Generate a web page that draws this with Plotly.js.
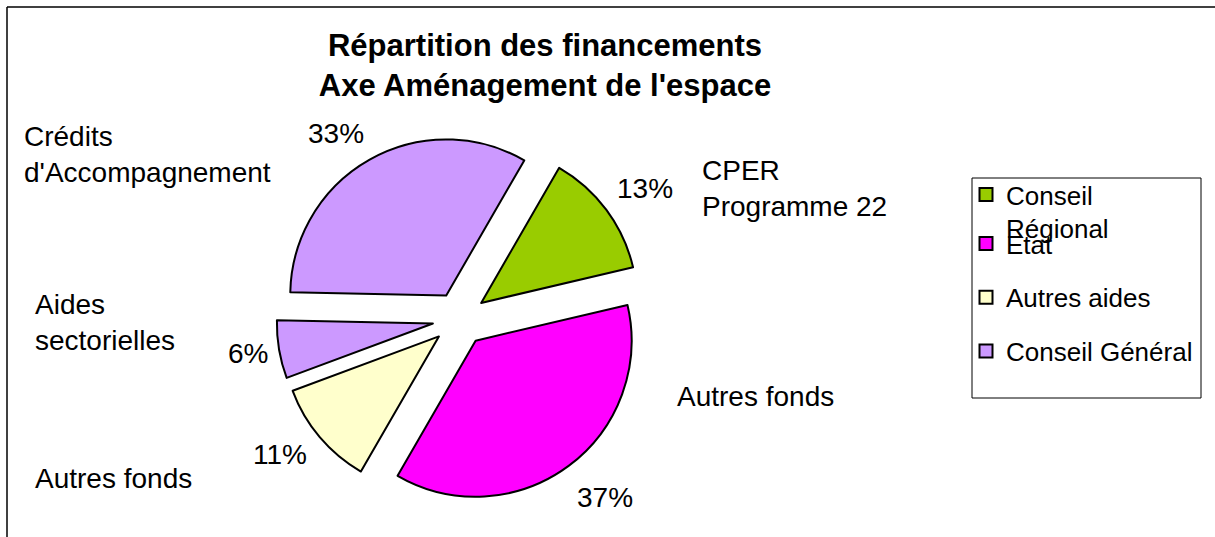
<!DOCTYPE html>
<html>
<head>
<meta charset="utf-8">
<script src="https://cdn.plot.ly/plotly-3.0.1.min.js"></script>
<style>html,body{margin:0;padding:0;background:#fff}#chart{width:1215px;height:537px}</style>
</head>
<body>
<div id="chart"></div>
<script>
// ---- data ----
var sliceValues = [13, 37, 11, 6, 33];
var sliceIds = ["Conseil Régional", "Etat", "Autres aides", "Conseil Général (Aides sectorielles)", "Conseil Général (Crédits)"];
var sliceNames = ["CPER<br>Programme 22", "Autres fonds", "Autres fonds", "Aides<br>sectorielles", "Crédits<br>d'Accompagnement"];
var sliceColors = ["#99CC00", "#FF00FF", "#FFFFCC", "#CC99FF", "#CC99FF"];
var legendNames = ["Conseil<br>Régional", "Etat", "Autres aides", "Conseil Général"];
var legendColors = ["#99CC00", "#FF00FF", "#FFFFCC", "#CC99FF"];
var chartTitle = "Répartition des financements<br>Axe Aménagement de l'espace";

// ---- layout helpers (pixels -> paper) ----
var W = 1215, H = 537;
function px(x) { return x / W; }
function py(y) { return 1 - y / H; }
var FONT = "Liberation Sans, Arial, sans-serif";

var cx = 459.5, cy = 319, half = 183;
var pie = {
  type: "pie",
  values: sliceValues,
  labels: sliceIds,
  sort: false,
  direction: "clockwise",
  rotation: 30,
  pull: 0.173,
  marker: {colors: sliceColors, line: {color: "#000000", width: 2}},
  textinfo: "none",
  hoverinfo: "label+percent",
  showlegend: false,
  domain: {x: [px(cx - half), px(cx + half)], y: [py(cy + half), py(cy - half)]}
};

var traces = [pie];
legendNames.forEach(function (name, i) {
  traces.push({
    type: "scatter", mode: "markers", x: [null], y: [null],
    name: name,
    legend: i === 0 ? "legend" : "legend2",
    legendgroup: "g" + i,
    marker: {symbol: "square", size: 13, color: legendColors[i], line: {color: "#000000", width: 2}},
    hoverinfo: "skip"
  });
});

var total = sliceValues.reduce(function (a, b) { return a + b; }, 0);
var labelPos = [[700, 188], [675, 396], [33, 478], [33, 322], [22, 155]];
var pctPos = [[645, 188], [605, 497], [280, 454], [248, 353], [336, 133]];
var annotations = [];
sliceNames.forEach(function (t, i) {
  annotations.push({
    text: t, xref: "paper", yref: "paper",
    x: px(labelPos[i][0]), y: py(labelPos[i][1]),
    xanchor: "left", yanchor: "middle", align: "left", showarrow: false,
    font: {family: FONT, size: 28, color: "#000000"}
  });
  annotations.push({
    text: Math.round(sliceValues[i] / total * 100) + "%", xref: "paper", yref: "paper",
    x: px(pctPos[i][0]), y: py(pctPos[i][1]),
    xanchor: "center", yanchor: "middle", showarrow: false,
    font: {family: FONT, size: 28, color: "#000000"}
  });
});

var layout = {
  width: W, height: H,
  margin: {l: 0, r: 0, t: 0, b: 0},
  paper_bgcolor: "#ffffff", plot_bgcolor: "#ffffff",
  title: {
    text: chartTitle,
    font: {family: FONT, size: 31, color: "#000000", weight: "bold"},
    x: px(545), xanchor: "center", xref: "paper",
    y: py(56), yanchor: "middle", yref: "container"
  },
  xaxis: {visible: false, range: [0, 1]},
  yaxis: {visible: false, range: [0, 1]},
  legend: {
    x: px(966), xanchor: "left", y: py(171), yanchor: "top",
    font: {family: FONT, size: 26, color: "#000000"},
    valign: "top", borderwidth: 0, bgcolor: "rgba(0,0,0,0)"
  },
  legend2: {
    x: px(966), xanchor: "left", y: py(220), yanchor: "top",
    font: {family: FONT, size: 26, color: "#000000"},
    valign: "top", borderwidth: 0, bgcolor: "rgba(0,0,0,0)",
    tracegroupgap: 17
  },
  annotations: annotations,
  shapes: [
    {type: "rect", xref: "paper", yref: "paper", x0: px(972), x1: px(1201), y0: py(398), y1: py(178), line: {color: "#000000", width: 1}},
    {type: "line", xref: "paper", yref: "paper", x0: px(7), x1: 1, y0: py(7), y1: py(7), line: {color: "#000000", width: 1.5}},
    {type: "line", xref: "paper", yref: "paper", x0: px(7), x1: px(7), y0: py(7), y1: 0, line: {color: "#000000", width: 1.5}}
  ],
  showlegend: true
};

Plotly.newPlot("chart", traces, layout, {displayModeBar: false, staticPlot: true});
</script>
</body>
</html>
